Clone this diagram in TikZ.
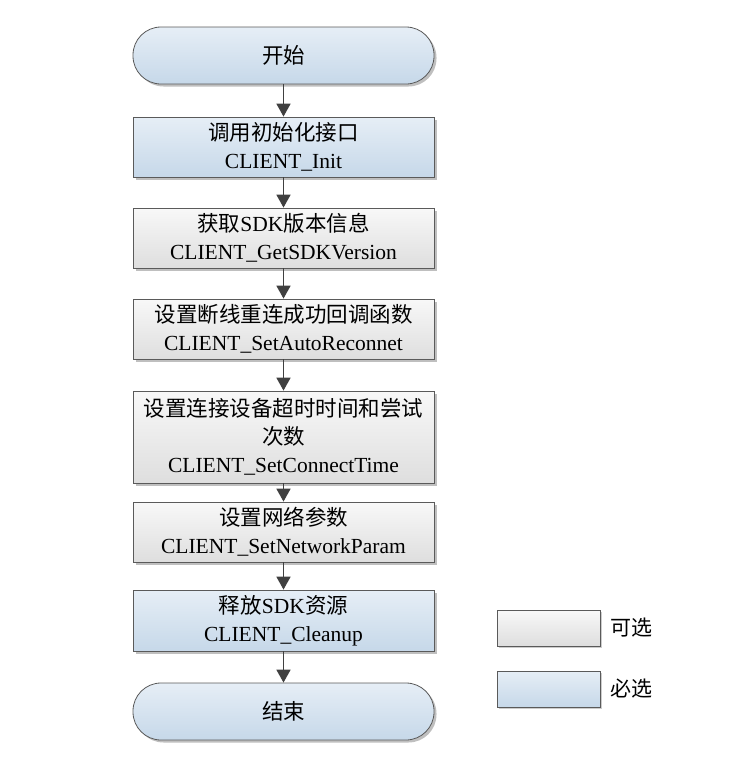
\documentclass[tikz,border=0pt]{standalone}
\usepackage{fontspec}
\setmainfont{Liberation Serif}
\newfontfamily\cjk{Noto Sans CJK SC}
\usetikzlibrary{shadows,arrows.meta}
\definecolor{bluetop}{HTML}{E6EEF6}
\definecolor{bluebot}{HTML}{C6D8E9}
\definecolor{graytop}{HTML}{F8F8F8}
\definecolor{graybot}{HTML}{DEDEDE}
\definecolor{edgec}{HTML}{5A5A5A}
\definecolor{arrowc}{HTML}{404040}
\tikzset{
  base/.style={draw=edgec, line width=0.8pt, minimum width=301pt, align=center,
    font=\fontsize{21.5}{28}\selectfont, inner sep=0pt,
    drop shadow={shadow xshift=2.5pt, shadow yshift=-2.5pt, fill=black, opacity=0.25}},
  bluebox/.style={base, top color=bluetop, bottom color=bluebot, minimum height=60pt},
  graybox/.style={base, top color=graytop, bottom color=graybot, minimum height=60pt},
  term/.style={base, top color=bluetop, bottom color=bluebot, minimum height=57pt, rounded corners=28pt},
  legbox/.style={draw=edgec, line width=0.8pt, minimum width=103pt, minimum height=36pt,
    drop shadow={shadow xshift=2pt, shadow yshift=-2pt, fill=black, opacity=0.2}},
  flow/.style={draw=arrowc, line width=1.8pt, -{Triangle[length=13pt,width=14pt]}},
  legtext/.style={font=\fontsize{21}{24}\selectfont\cjk, anchor=west}
}
\begin{document}
\begin{tikzpicture}[x=1pt,y=1pt]
\useasboundingbox (0,0) rectangle (746,-761);
\node[term] (start) at (283.5,-55.5) {\cjk 开始};
\node[bluebox] (init) at (283.5,-147) {{\cjk 调用初始化接口}\\CLIENT\_Init};
\node[graybox] (ver) at (283.5,-238) {{\cjk 获取}SDK{\cjk 版本信息}\\CLIENT\_GetSDKVersion};
\node[graybox] (reco) at (283.5,-329) {{\cjk 设置断线重连成功回调函数}\\CLIENT\_SetAutoReconnet};
\node[graybox, minimum height=92pt] (ctime) at (283.5,-437) {{\cjk 设置连接设备超时时间和尝试}\\{\cjk 次数}\\CLIENT\_SetConnectTime};
\node[graybox] (net) at (283.5,-532) {{\cjk 设置网络参数}\\CLIENT\_SetNetworkParam};
\node[bluebox, minimum height=61pt] (clean) at (283.5,-620.5) {{\cjk 释放}SDK{\cjk 资源}\\CLIENT\_Cleanup};
\node[term] (end) at (283.5,-711.5) {\cjk 结束};
\draw[flow] (start) -- (init);
\draw[flow] (init) -- (ver);
\draw[flow] (ver) -- (reco);
\draw[flow] (reco) -- (ctime);
\draw[flow] (ctime) -- (net);
\draw[flow] (net) -- (clean);
\draw[flow] (clean) -- (end);
\node[legbox, top color=graytop, bottom color=graybot] (lopt) at (548.5,-628) {};
\node[legbox, top color=bluetop, bottom color=bluebot] (lreq) at (548.5,-689) {};
\node[legtext] (topt) at (607,-628) {可选};
\node[legtext] (treq) at (607,-689) {必选};
\end{tikzpicture}
\end{document}
